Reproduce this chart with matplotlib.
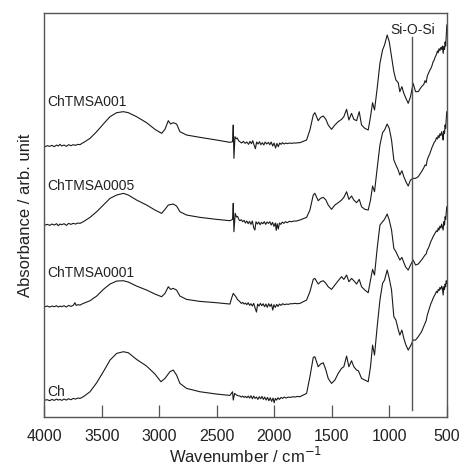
import matplotlib
matplotlib.use("Agg")
import matplotlib.pyplot as plt

plt.rcParams['font.family'] = ['Liberation Sans', 'DejaVu Sans']

# ---------------- data (arbitrary absorbance units) ----------------
labels = ["ChTMSA001", "ChTMSA0005", "ChTMSA0001", "Ch"]
offsets = [814, 577, 332, 52]

# ---- ChTMSA001 ----
wn_001 = [3996, 3975, 3955, 3935, 3915, 3895, 3880, 3865, 3850, 3830, 3810, 3790, 3770, 3750,
          3730, 3710, 3690, 3675, 3662, 3604, 3546, 3488, 3430, 3372, 3314, 3271, 3199, 3112,
          3039, 2981, 2952, 2923, 2903, 2880, 2851, 2822, 2764, 2648, 2503, 2387, 2364, 2358,
          2352, 2343, 2333, 2323, 2312,
          2300, 2285, 2270, 2255, 2240, 2225, 2212, 2200, 2188, 2176, 2165, 2155, 2142, 2130,
          2118, 2105, 2092, 2080, 2066, 2052, 2040, 2028, 2015, 2003, 1990, 1978, 1966, 1954,
          1942, 1930, 1915, 1900, 1885, 1870, 1850, 1830, 1810, 1790, 1778,
          1720, 1691, 1662, 1648, 1619, 1598, 1575, 1552, 1532, 1503, 1474, 1445, 1416, 1396,
          1372, 1352, 1329, 1309, 1285, 1262, 1242, 1213, 1184, 1164, 1146, 1129, 1106, 1082,
          1059, 1042, 1019, 1001, 981, 961, 943, 923, 909, 891, 874, 856, 836, 816, 793, 772, 749,
          720, 700, 690, 680, 670, 660, 650, 640, 630, 620, 610, 600, 590, 582, 575, 568, 560,
          552, 545, 538, 532, 526, 520, 515, 510, 505, 502, 500]
ab_001 = [-2, 1, -1, 2, -2, 3, 0, 5, 0, 3, -1, 4, 1, 4,
          2, 5, 4, 8, 10, 23, 43, 66, 88, 100, 103, 100, 88, 70,
          50, 38, 50, 76, 66, 70, 66, 43, 33, 26, 18, 11, 13, 63,
          -37, 28, 22, 24, 16,
          13, 9, 14, 8, 12, 5, 14, 7, 16, 2, -8, 12, 6, 13,
          4, 10, 3, 12, 6, 11, 4, 12, 0, 9, -6, 8, -2, 9,
          5, 10, 6, 9, 7, 9, 8, 9, 9, 10, 10,
          18, 48, 93, 100, 76, 86, 90, 80, 63, 50, 63, 73, 80, 88,
          110, 78, 98, 80, 76, 103, 63, 53, 48, 88, 130, 108, 173, 248,
          288, 303, 333, 313, 268, 223, 198, 190, 163, 178, 158, 143, 128, 148, 188, 163, 163,
          178, 185, 196, 190, 210, 218, 226, 232, 240, 252, 258, 268, 275, 285, 280, 292, 286,
          296, 290, 300, 278, 298, 290, 312, 300, 330, 350, 363]

# ---- ChTMSA0005 ----
wn_0005 = [3996, 3975, 3955, 3935, 3915, 3895, 3880, 3865, 3850, 3830, 3810, 3790, 3770, 3750,
           3730, 3710, 3690, 3675, 3662, 3604, 3546, 3488, 3430, 3372, 3314, 3271, 3199, 3112,
           3039, 2981, 2952, 2923, 2880, 2851, 2822, 2764, 2648, 2503, 2387, 2364, 2358, 2352,
           2341, 2330, 2320, 2310,
           2300, 2288, 2276, 2264, 2252, 2240, 2228, 2216, 2204, 2192, 2180, 2170, 2160, 2148,
           2136, 2124, 2112, 2100, 2088, 2076, 2064, 2052, 2040, 2028, 2016, 2004, 1992, 1984,
           1976, 1966, 1956, 1944, 1932, 1918, 1904, 1888, 1870, 1850, 1830, 1810, 1790, 1778,
           1720, 1691, 1662, 1648, 1619, 1598, 1575, 1552, 1532, 1503, 1474, 1445, 1416, 1396,
           1372, 1352, 1329, 1309, 1285, 1262, 1242, 1213, 1184, 1164, 1146, 1129, 1106, 1082,
           1059, 1042, 1019, 1001, 981, 961, 943, 923, 909, 891, 874, 856, 836, 816, 793, 772, 749,
           720, 700, 690, 680, 670, 660, 650, 640, 630, 620, 610, 600, 590, 582, 575, 568, 560,
           552, 545, 538, 532, 526, 520, 515, 510, 505, 502, 500]
ab_0005 = [0, 2, -1, 3, 0, 4, -2, 3, 1, 4, -1, 5, 2, 5,
           3, 6, 5, 8, 10, 23, 40, 60, 80, 90, 95, 90, 75, 60,
           45, 35, 47, 60, 63, 57, 40, 30, 23, 17, 13, 17, 65, -20,
           35, 24, 26, 17,
           13, 16, 10, 14, 6, 12, 4, 11, 2, 12, -8, -15, 10, 3,
           9, 1, 8, 4, 10, 2, 9, 5, 10, 0, 8, -4, 6, -16,
           4, -12, 6, 2, 9, 5, 10, 7, 11, 10, 12, 12, 14, 15,
           23, 45, 90, 95, 73, 80, 83, 75, 60, 47, 60, 67, 75, 83,
           100, 77, 87, 75, 67, 77, 55, 47, 45, 75, 117, 100, 170, 240,
           277, 285, 303, 290, 255, 195, 180, 165, 150, 163, 145, 130, 117, 135, 140, 140, 145,
           160, 172, 180, 178, 196, 205, 212, 222, 232, 240, 248, 252, 262, 258, 268, 262, 274,
           268, 280, 270, 255, 282, 275, 300, 290, 320, 335, 340]

# ---- ChTMSA0001 ----
wn_0001 = [3996, 3975, 3955, 3935, 3915, 3895, 3880, 3865, 3850, 3830, 3810, 3790, 3770, 3750,
           3735, 3725, 3710, 3690, 3675, 3662, 3604, 3546, 3488, 3430, 3372, 3314, 3271, 3199,
           3112, 3039, 2981, 2952, 2923, 2903, 2880, 2851, 2822, 2764, 2648, 2503, 2387, 2370,
           2358, 2346, 2335, 2322, 2310,
           2300, 2288, 2276, 2264, 2252, 2240, 2228, 2216, 2204, 2192, 2180, 2168, 2156, 2146,
           2134, 2122, 2110, 2098, 2086, 2074, 2062, 2050, 2038, 2026, 2014, 2004, 1992, 1980,
           1968, 1956, 1942, 1928, 1912, 1896, 1880, 1860, 1840, 1820, 1800, 1778,
           1720, 1691, 1662, 1648, 1619, 1598, 1575, 1552, 1532, 1503, 1474, 1445, 1416, 1396,
           1372, 1352, 1329, 1309, 1285, 1262, 1242, 1213, 1184, 1164, 1146, 1129, 1106, 1082,
           1059, 1042, 1019, 1001, 981, 961, 943, 923, 909, 891, 874, 856, 836, 816, 793, 772, 749,
           720, 700, 690, 680, 670, 660, 650, 640, 630, 620, 610, 600, 590, 582, 575, 568, 560,
           552, 545, 538, 532, 526, 520, 515, 510, 505, 502, 500]
ab_0001 = [0, 2, -1, 2, 0, 3, -1, 2, 0, 3, -1, 4, 1, 4,
           12, 4, 6, 5, 8, 10, 18, 32, 52, 68, 77, 78, 74, 62,
           50, 38, 30, 40, 60, 52, 55, 50, 32, 22, 16, 12, 8, 28,
           40, 35, 30, 22, 18,
           15, 10, 13, 8, 11, 6, 12, 4, 9, 2, 10, -4, -16, 8,
           2, 10, 3, 9, 0, 8, -2, 9, 1, 8, -10, 6, -2, 7,
           1, 8, 4, 9, 6, 8, 7, 9, 9, 10, 9, 10,
           20, 45, 82, 85, 68, 75, 78, 70, 60, 52, 65, 78, 90, 82,
           95, 75, 85, 78, 68, 82, 60, 50, 42, 80, 112, 95, 175, 245,
           255, 262, 278, 260, 230, 175, 165, 150, 140, 148, 132, 118, 110, 125, 140, 125, 128,
           140, 150, 155, 158, 170, 176, 185, 195, 202, 210, 216, 222, 228, 225, 236, 230, 242,
           236, 248, 238, 230, 255, 245, 270, 262, 285, 295, 300]

# ---- Ch ----
wn_ch = [3996, 3975, 3955, 3935, 3915, 3895, 3880, 3865, 3850, 3830, 3810, 3790, 3770, 3750,
         3730, 3710, 3690, 3675, 3662, 3604, 3546, 3488, 3430, 3372, 3314, 3271, 3199, 3112,
         3039, 2987, 2952, 2909, 2880, 2851, 2822, 2764, 2648, 2503, 2387, 2364, 2358, 2346,
         2329, 2315,
         2300, 2288, 2276, 2264, 2252, 2240, 2228, 2216, 2204, 2192, 2180, 2168, 2156, 2144,
         2132, 2120, 2108, 2096, 2084, 2072, 2060, 2048, 2036, 2024, 2012, 2002, 1992, 1980,
         1968, 1956, 1942, 1928, 1914, 1898, 1880, 1860, 1840, 1820, 1800, 1778,
         1720, 1691, 1662, 1648, 1619, 1598, 1575, 1552, 1532, 1503, 1474, 1445, 1416, 1396,
         1372, 1352, 1329, 1309, 1285, 1270, 1262, 1242, 1213, 1184, 1164, 1146, 1129, 1106,
         1082, 1059, 1042, 1019, 1001, 981, 961, 943, 923, 909, 891, 874, 856, 836, 816, 793,
         772, 749,
         720, 700, 690, 680, 670, 660, 650, 640, 630, 620, 610, 600, 590, 582, 575, 568, 560,
         552, 545, 538, 532, 526, 520, 515, 510, 505, 502, 500]
ab_ch = [0, 1, -2, 2, -1, 3, 0, 2, -1, 3, 0, 4, 1, 5,
         3, 6, 5, 8, 10, 25, 52, 85, 120, 140, 145, 142, 122, 102,
         78, 55, 65, 85, 90, 75, 50, 35, 25, 18, 14, 25, 0, 20,
         15, 13,
         12, 9, 12, 8, 11, 7, 12, 6, 13, 4, 12, 5, 9, 2,
         10, 4, 11, 2, 9, 0, 8, -2, 7, -4, 6, -8, 5, 0,
         7, 2, 8, 5, 9, 6, 9, 8, 10, 9, 11, 10,
         20, 70, 128, 130, 100, 108, 112, 90, 65, 50, 60, 80, 95, 100,
         132, 100, 118, 100, 90, 88, 82, 65, 60, 55, 100, 165, 135, 220,
         300, 350, 360, 390, 365, 330, 250, 240, 212, 195, 210, 185, 165, 150, 162, 180,
         180, 190,
         205, 222, 230, 238, 255, 266, 278, 288, 296, 305, 312, 318, 326, 322, 332, 328, 338,
         332, 342, 335, 315, 340, 332, 348, 340, 358, 352, 350]

wavenumbers = [wn_001, wn_0005, wn_0001, wn_ch]
absorbances = [ab_001, ab_0005, ab_0001, ab_ch]

xticks = [4000, 3500, 3000, 2500, 2000, 1500, 1000, 500]
band_pos = 800
band_label = "Si-O-Si"

# ---------------- figure ----------------
fig = plt.figure(figsize=(4.64, 4.69), dpi=100)
ax = fig.add_axes([0.0959, 0.110, 0.8671, 0.8616])

label_y = [946, 694, 433, 76]
for wn, ab, off, lab, ly in zip(wavenumbers, absorbances, offsets, labels, label_y):
    n = min(len(wn), len(ab))
    ax.plot(wn[:n], [a + off for a in ab[:n]], color='#1a1a1a', lw=0.8)
    ax.text(3972, ly, lab, fontsize=10, ha='left', va='center', color='#222222')

ax.plot([band_pos, band_pos], [22, 1141], color='#555555', lw=1.0)
ax.text(band_pos, 1163, band_label, fontsize=10, ha='center', va='center', color='#222222')

ax.set_xlim(4000, 500)
ax.set_ylim(0, 1212)
ax.set_xticks(xticks)
ax.set_xticklabels([str(t) for t in xticks])
ax.set_yticks([])
ax.tick_params(axis='x', direction='in', length=8.5, width=0.9, color='#555555',
               labelsize=11.5, pad=8, labelcolor='#222222')
for s in ax.spines.values():
    s.set_color('#555555')
    s.set_linewidth(1.0)

ax.set_xlabel("Wavenumber / cm$^{-1}$", fontsize=12, color='#222222', labelpad=2)
ax.set_ylabel("Absorbance / arb. unit", fontsize=12, color='#222222', labelpad=8)

fig.savefig("out.png", dpi=100)
